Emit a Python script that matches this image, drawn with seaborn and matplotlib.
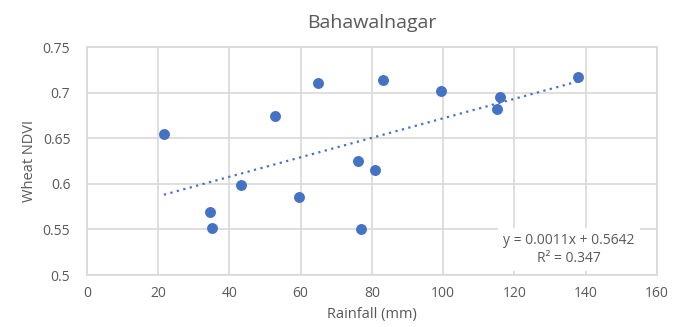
import numpy as np
import pandas as pd
import matplotlib
matplotlib.use("Agg")
import matplotlib.pyplot as plt
import seaborn as sns

rainfall = [21.6, 34.5, 35.1, 43.2, 52.8, 59.5, 64.8, 76.1, 76.9, 80.8, 83.1, 99.4, 115.1, 115.9, 137.8]
ndvi = [0.655, 0.569, 0.552, 0.599, 0.674, 0.586, 0.711, 0.625, 0.551, 0.615, 0.714, 0.702, 0.682, 0.695, 0.717]
x_ticks = [0, 20, 40, 60, 80, 100, 120, 140, 160]
y_ticks = [0.5, 0.55, 0.6, 0.65, 0.7, 0.75]
y_tick_labels = ["0.5", "0.55", "0.6", "0.65", "0.7", "0.75"]
title = "Bahawalnagar"
x_label = "Rainfall (mm)"
y_label = "Wheat NDVI"
eq_text = "y = 0.0011x + 0.5642\nR\u00b2 = 0.347"

df = pd.DataFrame({"Rainfall": rainfall, "NDVI": ndvi})

sns.set_theme(style="white")
plt.rcParams['font.family'] = ['Open Sans', 'DejaVu Sans']
grey = "#595959"
blue = "#4472C4"

fig = plt.figure(figsize=(6.82, 3.27), dpi=100)
ax = fig.add_axes([0.1276, 0.159, 0.963 - 0.1276, 0.856 - 0.159])

sns.scatterplot(data=df, x="Rainfall", y="NDVI", ax=ax, color=blue, s=62,
                edgecolor=blue, linewidth=0, zorder=3)

# trendline
coef = np.polyfit(df["Rainfall"], df["NDVI"], 1)
xs = np.linspace(min(rainfall), max(rainfall), 50)
ax.plot(xs, np.polyval(coef, xs), linestyle=(0, (1, 2)), color=blue, linewidth=1.6, zorder=2)

ax.set_xlim(0, 160)
ax.set_ylim(0.5, 0.75)
ax.set_xticks(x_ticks)
ax.set_yticks(y_ticks)
ax.set_yticklabels(y_tick_labels)
ax.grid(True, color="#D9D9D9", linewidth=1.2, zorder=0)
ax.set_axisbelow(True)
for s in ax.spines.values():
    s.set_color("#D9D9D9")
    s.set_linewidth(1.2)
    s.set_zorder(5)
ax.tick_params(axis="x", colors=grey, labelsize=10, length=0, pad=8)
ax.tick_params(axis="y", colors=grey, labelsize=10, length=0, pad=12)

ax.set_xlabel(x_label, color=grey, fontsize=10.5, labelpad=4)
ax.set_ylabel(y_label, color=grey, fontsize=10.5, labelpad=4)
ax.set_title(title, color=grey, fontsize=14, pad=14)

ax.text(135.3, 0.528, eq_text, ha="center", va="center", color=grey, fontsize=10,
        linespacing=1.2, zorder=4,
        bbox=dict(facecolor="white", edgecolor="none", boxstyle="square,pad=0.4"))

fig.savefig("out.png", dpi=100)
